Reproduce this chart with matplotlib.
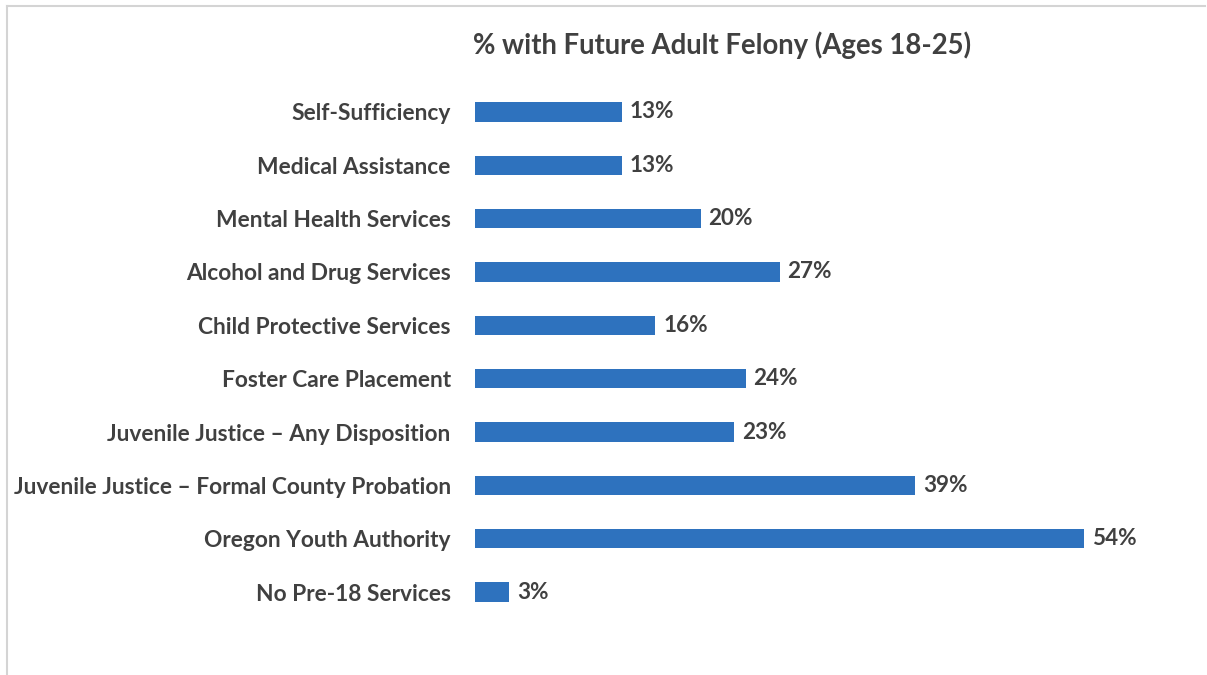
import matplotlib
matplotlib.use("Agg")
import matplotlib.pyplot as plt
from matplotlib.lines import Line2D

categories = [
    "Self-Sufficiency",
    "Medical Assistance",
    "Mental Health Services",
    "Alcohol and Drug Services",
    "Child Protective Services",
    "Foster Care Placement",
    "Juvenile Justice \u2013 Any Disposition",
    "Juvenile Justice \u2013 Formal County Probation",
    "Oregon Youth Authority",
    "No Pre-18 Services",
]
values = [13, 13, 20, 27, 16, 24, 23, 39, 54, 3]
title = "% with Future Adult Felony (Ages 18-25)"

W, H = 1207, 675
fig = plt.figure(figsize=(W / 100, H / 100), dpi=100)
fig.patch.set_facecolor("white")

text_color = "#404040"
bar_color = "#2E72BE"
font = ["Lato", "DejaVu Sans"]

# axes placement in pixels
x0, x1 = 475, 475 + 60 * 11.28
y_top, y_bot = 85.3, 618.7
ax = fig.add_axes([x0 / W, 1 - y_bot / H, (x1 - x0) / W, (y_bot - y_top) / H])

pos = list(range(len(categories)))
ax.barh(pos, values, height=0.36, color=bar_color)
ax.set_xlim(0, 60)
ax.set_ylim(len(categories) - 0.5, -0.5)

for p, v in zip(pos, values):
    ax.text(v + 0.7, p, f"{v}%", va="center", ha="left", fontsize=16.2,
            fontweight="bold", color=text_color, family=font)

ax.set_yticks(pos)
ax.set_yticklabels(categories, fontsize=16.4, fontweight="bold",
                   color=text_color, family=font)
ax.tick_params(axis="y", length=0, pad=17.5)
ax.set_xticks([])
for s in ax.spines.values():
    s.set_visible(False)

fig.text(722 / W, 1 - 45 / H, title, ha="center", va="center", fontsize=19.8,
         fontweight="bold", color=text_color, family=font)

# thin frame on top and left edges
fig.add_artist(Line2D([7 / W, 1205 / W], [1 - 6 / H, 1 - 6 / H],
                      transform=fig.transFigure, color="#d4d4d4", lw=1.5))
fig.add_artist(Line2D([7 / W, 7 / W], [1 - 6 / H, 0],
                      transform=fig.transFigure, color="#d4d4d4", lw=1.5))

fig.savefig("out.png", dpi=100, facecolor="white")
